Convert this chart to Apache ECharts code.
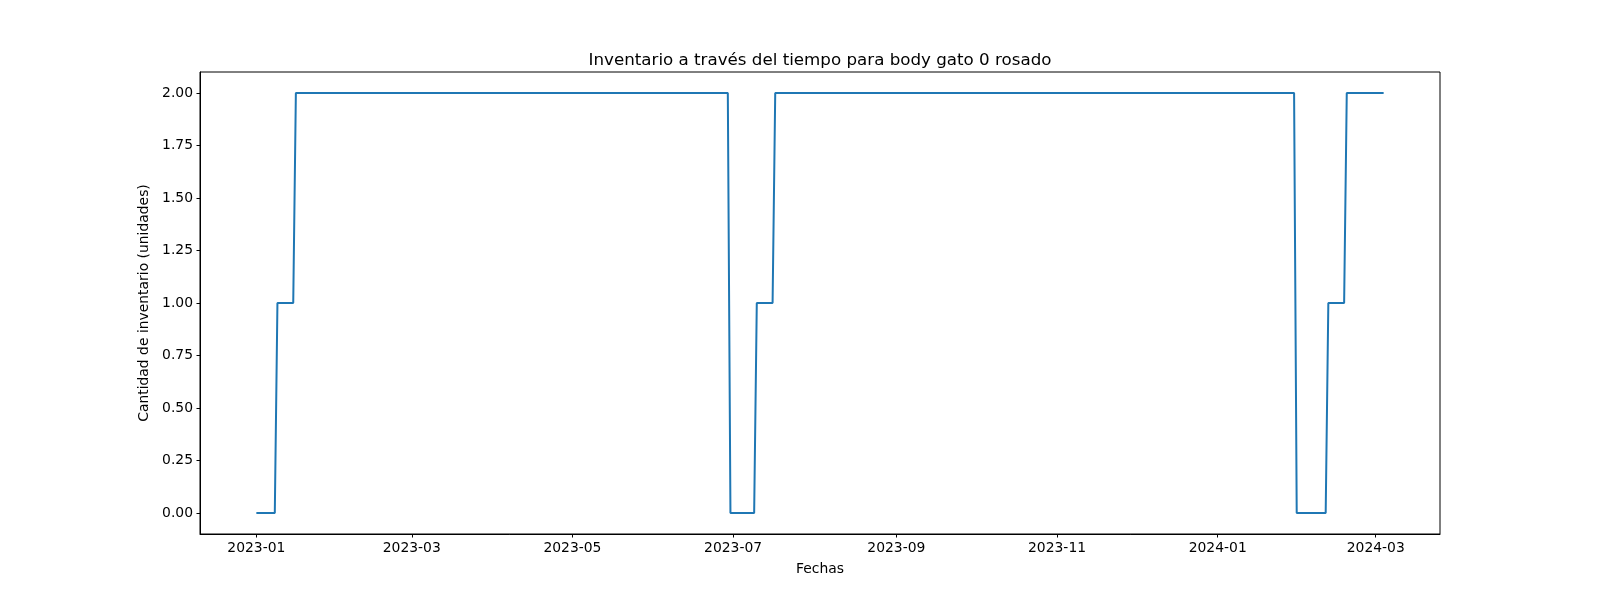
<!DOCTYPE html>
<html>
<head>
<meta charset="utf-8">
<script src="https://cdn.jsdelivr.net/npm/echarts@6/dist/echarts.min.js"></script>
<style>
  html, body { margin: 0; padding: 0; background: #fff; }
  #main { width: 1600px; height: 600px; }
</style>
</head>
<body>
<div id="main"></div>
<script>
// fechas donde cambia el inventario
var fechas = [
    '2023-01-01', '2023-01-08', '2023-01-09', '2023-01-15', '2023-01-16',
    '2023-06-29', '2023-06-30', '2023-07-09', '2023-07-10', '2023-07-16',
    '2023-07-17', '2024-01-30', '2024-01-31', '2024-02-11', '2024-02-12',
    '2024-02-18', '2024-02-19', '2024-03-04'
];
var cantidades = [0, 0, 1, 1, 2, 2, 0, 0, 1, 1, 2, 2, 0, 0, 1, 1, 2, 2];

var xTicks = ['2023-01', '2023-03', '2023-05', '2023-07', '2023-09', '2023-11', '2024-01', '2024-03'];
var yTicks = [0, 0.25, 0.5, 0.75, 1, 1.25, 1.5, 1.75, 2];

var titulo = 'Inventario a través del tiempo para body gato 0 rosado';

function toTime(s) {
    var p = s.split('-');
    return new Date(+p[0], +p[1] - 1, p[2] ? +p[2] : 1).getTime();
}

var myChart = echarts.init(document.getElementById('main'));

var data = [];
for (var i = 0; i < fechas.length; i++) {
    data.push([toTime(fechas[i]), cantidades[i]]);
}
var t0 = data[0][0], t1 = data[data.length - 1][0];
var pad = (t1 - t0) * 0.05;
var xTickTimes = xTicks.map(toTime);

var font = 'DejaVu Sans';

var option = {
    animation: false,
    backgroundColor: '#fff',
    title: {
        text: titulo,
        left: 815,
        top: 47,
        textAlign: 'center',
        textStyle: { fontFamily: font, fontSize: 16.7, fontWeight: 'normal', color: '#000' }
    },
    grid: {
        left: 200, right: 160, top: 72, bottom: 66,
        show: true, borderColor: '#000', borderWidth: 1, backgroundColor: 'transparent'
    },
    xAxis: {
        type: 'value',
        min: t0 - pad,
        max: t1 + pad,
        name: 'Fechas',
        nameLocation: 'middle',
        nameGap: 28,
        nameTextStyle: { fontFamily: font, fontSize: 13.9, color: '#000', verticalAlign: 'top' },
        axisLine: { show: true, onZero: false, lineStyle: { color: '#000', width: 1 } },
        axisTick: { show: true, length: 3.5, lineStyle: { color: '#000' }, customValues: xTickTimes },
        axisLabel: {
            customValues: xTickTimes,
            margin: 7,
            fontFamily: font, fontSize: 13.9, color: '#000',
            formatter: function (v) {
                var d = new Date(v);
                var m = d.getMonth() + 1;
                return d.getFullYear() + '-' + (m < 10 ? '0' + m : m);
            }
        },
        splitLine: { show: false }
    },
    yAxis: {
        type: 'value',
        min: -0.1,
        max: 2.1,
        name: 'Cantidad de inventario (unidades)',
        nameLocation: 'middle',
        nameGap: 47,
        nameTextStyle: { fontFamily: font, fontSize: 13.9, color: '#000' },
        axisLine: { show: true, onZero: false, lineStyle: { color: '#000', width: 1 } },
        axisTick: { show: true, length: 3.5, lineStyle: { color: '#000' }, customValues: yTicks },
        axisLabel: {
            customValues: yTicks,
            margin: 7,
            fontFamily: font, fontSize: 13.9, color: '#000',
            formatter: function (v) { return v.toFixed(2); }
        },
        splitLine: { show: false }
    },
    series: [{
        type: 'line',
        data: data,
        showSymbol: false,
        symbol: 'none',
        lineStyle: { color: '#1f77b4', width: 2 },
        itemStyle: { color: '#1f77b4' }
    }]
};
myChart.setOption(option);
</script>
</body>
</html>
